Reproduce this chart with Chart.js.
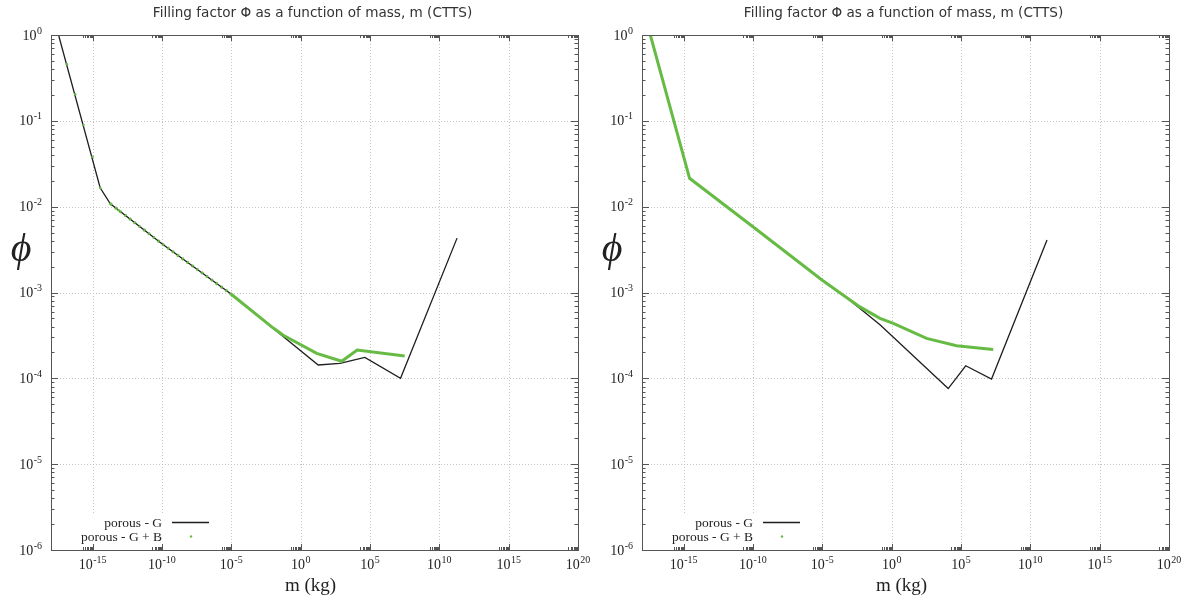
<!DOCTYPE html>
<html>
<head>
<meta charset="utf-8">
<script src="https://cdn.jsdelivr.net/npm/chart.js@4.4.1/dist/chart.umd.min.js"></script>
<style>
  html, body { margin: 0; padding: 0; background: #fff; }
  #wrap { position: relative; width: 1189px; height: 604px; }
  .panel { position: absolute; top: 0; }
</style>
</head>
<body>
<div id="wrap">
  <div class="panel" style="left:0"><canvas id="leftChart" width="595" height="604"></canvas></div>
  <div class="panel" style="left:595px"><canvas id="rightChart" width="594" height="604"></canvas></div>
</div>
<script>
// tick exponents (labels are 10^e)
const xTickExps = [-15, -10, -5, 0, 5, 10, 15, 20];
const yTickExps = [0, -1, -2, -3, -4, -5, -6];

const titleText = 'Filling factor \u03A6 as a function of mass, m (CTTS)';
const seriesNames = ['porous - G', 'porous - G + B'];

// left panel, porous - G (black)
const leftGMass = [3.5e-18, 3.5e-15, 1.9e-14, 1e-10, 8.1e-6, 0.0107, 18.6, 676, 4.3e4, 1.6e7, 1.9e11];
const leftGPhi  = [1.0, 0.0166, 0.0108, 0.0037, 9.8e-4, 3.8e-4, 1.43e-4, 1.49e-4, 1.75e-4, 1.0e-4, 4.3e-3];

// left panel, porous - G + B (green)
const leftGBMass = [3.5e-18, 1.4e-17, 5.6e-17, 2.2e-16, 1.0e-15, 3.5e-15, 1.9e-14, 7.4e-14, 1e-10, 8.1e-6, 0.0107, 0.056, 14.5, 912, 1.2e4, 3.2e7];
const leftGBPhi  = [1.0, 0.456, 0.204, 0.0893, 0.0382, 0.0166, 0.0108, 0.0091, 0.0037, 9.8e-4, 3.85e-4, 3.18e-4, 1.95e-4, 1.58e-4, 2.14e-4, 1.82e-4];

// right panel, porous - G (black)
const rightGMass = [4.0e-18, 2.7e-15, 1e-10, 1e-5, 3.3e-4, 5.2e-3, 0.145, 1.2e4, 2.2e5, 1.6e7, 1.6e11];
const rightGPhi  = [1.0, 0.0214, 5.83e-3, 1.39e-3, 9.3e-4, 6.5e-4, 4.2e-4, 7.6e-5, 1.4e-4, 9.8e-5, 4.1e-3];

// right panel, porous - G + B (green)
const rightGBMass = [4.0e-18, 2.7e-15, 1e-10, 1e-5, 3.3e-4, 5.2e-3, 0.145, 1.32, 331, 4.8e4, 2.1e7];
const rightGBPhi  = [1.0, 0.0214, 5.83e-3, 1.39e-3, 9.3e-4, 6.8e-4, 5.0e-4, 4.37e-4, 2.92e-4, 2.4e-4, 2.17e-4];

const SERIF = "'Liberation Serif', 'Times New Roman', 'DejaVu Serif', serif";
const SANS = "'DejaVu Sans', Verdana, sans-serif";
const GREEN = '#66bb44';
const BLACK = '#1e1e1e';
const FRAME = '#555555';

function toPoints(xs, ys) {
  return xs.map((v, i) => ({ x: v, y: ys[i] }));
}

function drawPow(ctx, exp, x, y, align) {
  ctx.font = '14px ' + SERIF;
  const w1 = ctx.measureText('10').width;
  ctx.font = '10px ' + SERIF;
  const w2 = ctx.measureText(String(exp)).width;
  const x0 = align === 'right' ? x - w1 - w2 - 0.5 : x - (w1 + w2 + 0.5) / 2;
  ctx.textAlign = 'left';
  ctx.textBaseline = 'alphabetic';
  ctx.font = '14px ' + SERIF;
  ctx.fillText('10', x0, y);
  ctx.font = '10px ' + SERIF;
  ctx.fillText(String(exp), x0 + w1 + 0.5, y - 6);
}

const gnuplotLook = {
  id: 'gnuplotLook',
  beforeDatasetsDraw(chart) {
    const { ctx, chartArea: a, scales: { x, y } } = chart;
    ctx.save();
    ctx.strokeStyle = '#c4c4c4';
    ctx.lineWidth = 1;
    ctx.setLineDash([1, 2]);
    xTickExps.forEach(e => {
      const px = Math.round(x.getPixelForValue(Math.pow(10, e))) + 0.5;
      if (px > a.left + 2 && px < a.right - 2) {
        ctx.beginPath(); ctx.moveTo(px, a.top); ctx.lineTo(px, a.bottom); ctx.stroke();
      }
    });
    yTickExps.forEach(e => {
      const py = Math.round(y.getPixelForValue(Math.pow(10, e))) + 0.5;
      if (py > a.top + 2 && py < a.bottom - 2) {
        ctx.beginPath(); ctx.moveTo(a.left, py); ctx.lineTo(a.right, py); ctx.stroke();
      }
    });
    ctx.restore();
  },
  afterDatasetsDraw(chart) {
    const { ctx, chartArea: a, scales: { x, y } } = chart;
    ctx.save();

    // legend box (inside, lower left)
    ctx.fillStyle = '#fff';
    ctx.fillRect(a.left + 22, a.bottom - 37, 148, 33);
    ctx.fillStyle = '#222';
    ctx.font = '13.5px ' + SERIF;
    ctx.textAlign = 'right';
    ctx.textBaseline = 'alphabetic';
    ctx.fillText(seriesNames[0], a.left + 111, a.bottom - 23);
    ctx.fillText(seriesNames[1], a.left + 111, a.bottom - 9);
    ctx.strokeStyle = BLACK;
    ctx.lineWidth = 1.3;
    ctx.beginPath(); ctx.moveTo(a.left + 121, a.bottom - 27.5); ctx.lineTo(a.left + 158, a.bottom - 27.5); ctx.stroke();
    ctx.fillStyle = GREEN;
    ctx.beginPath(); ctx.arc(a.left + 140, a.bottom - 13.5, 1.2, 0, Math.PI * 2); ctx.fill();

    // frame
    ctx.strokeStyle = FRAME;
    ctx.lineWidth = 1;
    ctx.strokeRect(Math.round(a.left) + 0.5, Math.round(a.top) + 0.5, Math.round(a.right - a.left), Math.round(a.bottom - a.top));

    // x ticks (inward, top and bottom)
    ctx.beginPath();
    xTickExps.forEach(e => {
      const px = Math.round(x.getPixelForValue(Math.pow(10, e))) + 0.5;
      ctx.moveTo(px, a.bottom); ctx.lineTo(px, a.bottom - 6);
      ctx.moveTo(px, a.top); ctx.lineTo(px, a.top + 6);
      for (let k = 2; k <= 9; k++) {
        const pm = Math.round(x.getPixelForValue(k * Math.pow(10, e - 1))) + 0.5;
        if (pm <= a.left + 1) continue;
        ctx.moveTo(pm, a.bottom); ctx.lineTo(pm, a.bottom - 3);
        ctx.moveTo(pm, a.top); ctx.lineTo(pm, a.top + 3);
      }
    });
    // y ticks (inward, left and right)
    yTickExps.forEach(e => {
      const py = Math.round(y.getPixelForValue(Math.pow(10, e))) + 0.5;
      ctx.moveTo(a.left, py); ctx.lineTo(a.left + 7, py);
      ctx.moveTo(a.right, py); ctx.lineTo(a.right - 7, py);
      if (e === 0) return;
      for (let k = 2; k <= 9; k++) {
        const pm = Math.round(y.getPixelForValue(k * Math.pow(10, e))) + 0.5;
        ctx.moveTo(a.left, pm); ctx.lineTo(a.left + 3.5, pm);
        ctx.moveTo(a.right, pm); ctx.lineTo(a.right - 3.5, pm);
      }
    });
    ctx.stroke();

    // tick labels
    ctx.fillStyle = '#222';
    xTickExps.forEach(e => {
      const px = x.getPixelForValue(Math.pow(10, e));
      drawPow(ctx, e, px, a.bottom + 19, 'center');
    });
    yTickExps.forEach(e => {
      const py = y.getPixelForValue(Math.pow(10, e));
      drawPow(ctx, e, a.left - 9, py + 4.5, 'right');
    });

    // axis titles
    ctx.textAlign = 'center';
    ctx.textBaseline = 'alphabetic';
    ctx.font = '19px ' + SERIF;
    ctx.fillText('m (kg)', (a.left + a.right) / 2 - 4, 591);
    ctx.textBaseline = 'middle';
    ctx.font = 'italic 40px ' + SERIF;
    ctx.fillText('\u03D5', a.left - 30, 250);

    // chart title
    ctx.fillStyle = '#333';
    ctx.font = '13.6px ' + SANS;
    ctx.textBaseline = 'alphabetic';
    ctx.fillText(titleText, (a.left + a.right) / 2 - 2, 17);
    ctx.restore();
  }
};

function makeChart(canvasId, gMass, gPhi, gbMass, gbPhi, pad, sparse) {
  const canvas = document.getElementById(canvasId);
  return new Chart(canvas, {
    type: 'line',
    data: {
      datasets: [
        {
          label: seriesNames[1],
          data: toPoints(gbMass, gbPhi),
          borderColor: GREEN,
          backgroundColor: GREEN,
          borderWidth: 3,
          tension: 0,
          pointRadius: ctx => (sparse && ctx.parsed && ctx.parsed.x < 1e-13) ? 1.3 : 0,
          pointBorderWidth: 0,
          segment: {
            borderColor: ctx => (sparse && ctx.p0.parsed.x < 1e-14) ? 'rgba(0,0,0,0)' : undefined,
            borderDash: ctx => (sparse && ctx.p0.parsed.x < 1e-6) ? [2, 4] : undefined
          },
          order: 0
        },
        {
          label: seriesNames[0],
          data: toPoints(gMass, gPhi),
          borderColor: BLACK,
          borderWidth: 1.3,
          tension: 0,
          pointRadius: 0,
          order: 1
        }
      ]
    },
    options: {
      responsive: false,
      animation: false,
      events: [],
      layout: { padding: pad, autoPadding: false },
      scales: {
        x: { type: 'logarithmic', min: 1e-18, max: 1e20, display: false },
        y: { type: 'logarithmic', min: 1e-6, max: 1, display: false }
      },
      plugins: {
        legend: { display: false },
        title: { display: false },
        tooltip: { enabled: false }
      }
    },
    plugins: [gnuplotLook]
  });
}

makeChart('leftChart', leftGMass, leftGPhi, leftGBMass, leftGBPhi,
  { left: 51, top: 35, right: 17, bottom: 54 }, true);
makeChart('rightChart', rightGMass, rightGPhi, rightGBMass, rightGBPhi,
  { left: 47, top: 35, right: 20, bottom: 54 }, false);
</script>
</body>
</html>
